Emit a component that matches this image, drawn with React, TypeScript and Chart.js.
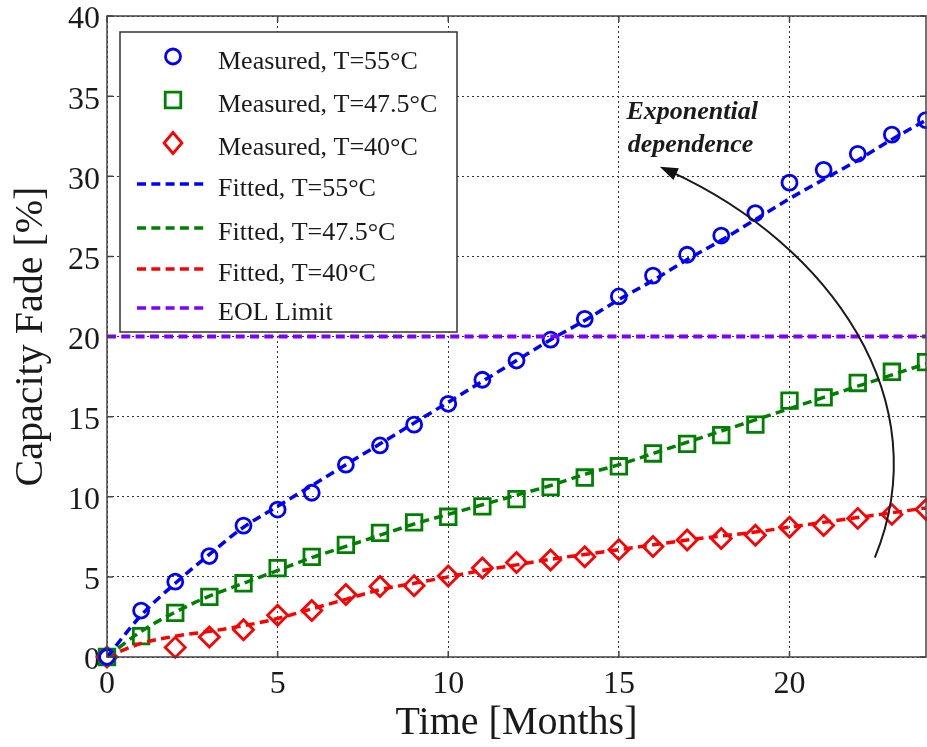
import React, { useEffect, useRef } from 'react';
import { Chart, registerables } from 'chart.js';

Chart.register(...registerables);

// ---------- data ----------
const months = [0, 1, 2, 3, 4, 5, 6, 7, 8, 9, 10, 11, 12, 13, 14, 15, 16, 17, 18, 19, 20, 21, 22, 23, 24];

const measured55 = [0, 2.9, 4.7, 6.3, 8.2, 9.2, 10.25, 12.0, 13.2, 14.5, 15.8, 17.3, 18.5, 19.8, 21.1, 22.5, 23.8, 25.1, 26.3, 27.7, 29.6, 30.4, 31.4, 32.6, 33.5];
const measured475 = [0, 1.3, 2.75, 3.75, 4.6, 5.55, 6.25, 7.0, 7.75, 8.4, 8.75, 9.4, 9.85, 10.6, 11.2, 11.9, 12.7, 13.3, 13.85, 14.5, 16.0, 16.2, 17.1, 17.8, 18.4];
const measured40 = [0, null, 0.6, 1.25, 1.7, 2.6, 2.9, 3.9, 4.4, 4.45, 5.05, 5.55, 5.9, 6.05, 6.25, 6.7, 6.9, 7.3, 7.4, 7.6, 8.1, 8.2, 8.65, 8.9, 9.2];

const fitted55 = [0, 2.6, 4.6, 6.4, 8.1, 9.4, 10.7, 12.0, 13.3, 14.6, 15.9, 17.2, 18.5, 19.8, 21.0, 22.3, 23.5, 24.8, 26.0, 27.3, 28.6, 29.8, 31.0, 32.3, 33.5];
const fitted475 = [0, 1.6, 2.8, 3.8, 4.6, 5.4, 6.2, 6.9, 7.6, 8.3, 8.9, 9.5, 10.1, 10.7, 11.4, 12.0, 12.7, 13.4, 14.1, 14.8, 15.5, 16.2, 16.9, 17.6, 18.3];
const fitted40 = [0, 0.85, 1.3, 1.6, 1.95, 2.4, 3.0, 3.6, 4.2, 4.6, 5.0, 5.4, 5.75, 6.1, 6.4, 6.7, 7.0, 7.3, 7.55, 7.8, 8.1, 8.4, 8.7, 9.0, 9.3];

const eolLimit = 20;

const seriesLabels = [
  'Measured, T=55°C',
  'Measured, T=47.5°C',
  'Measured, T=40°C',
  'Fitted, T=55°C',
  'Fitted, T=47.5°C',
  'Fitted, T=40°C',
  'EOL Limit',
];

const xTicks = [0, 5, 10, 15, 20];
const yTicks = [0, 5, 10, 15, 20, 25, 30, 35, 40];
const xTitle = 'Time [Months]';
const yTitle = 'Capacity Fade [%]';

const annotationLines = ['Exponential', 'dependence'];
const annotationTextAt = [[17.15, 34.0], [17.1, 31.95]];
const arrowCurve = [[22.5, 6.2], [24.4, 16.0], [21.2, 25.7], [16.2, 30.6]];

// ---------- styles ----------
const SERIF = "'Liberation Serif', 'Times New Roman', serif";
const BLUE = '#0000ff';
const GREEN = '#008000';
const RED = '#ff0000';
const PURPLE = '#7f00ff';
const TEXT = '#1a1a1a';

const pts = (ys: (number | null)[]) =>
  months.map((m, i) => ({ x: m, y: ys[i] })).filter((p) => p.y !== null);

function drawMarker(ctx: CanvasRenderingContext2D, kind: string, x: number, y: number, color: string) {
  ctx.save();
  ctx.strokeStyle = color;
  ctx.lineWidth = 2.8;
  ctx.beginPath();
  if (kind === 'circle') {
    ctx.arc(x, y, 7.5, 0, Math.PI * 2);
  } else if (kind === 'rect') {
    const s = 11 * Math.SQRT1_2;
    ctx.rect(x - s, y - s, 2 * s, 2 * s);
  } else {
    const r = 10.5;
    ctx.moveTo(x, y - r);
    ctx.lineTo(x + r * 0.85, y);
    ctx.lineTo(x, y + r);
    ctx.lineTo(x - r * 0.85, y);
    ctx.closePath();
  }
  ctx.stroke();
  ctx.restore();
}

const legendRows = [24.5, 68, 111, 152, 196, 237, 276];

const framePlugin = {
  id: 'framePlugin',
  afterDatasetsDraw(chart: any) {
    const ctx: CanvasRenderingContext2D = chart.ctx;
    const a = chart.chartArea;
    const xs = chart.scales.x;
    const ys = chart.scales.y;

    // axes box + inner ticks
    ctx.save();
    ctx.strokeStyle = '#444';
    ctx.lineWidth = 1.5;
    ctx.strokeRect(a.left, a.top, a.right - a.left, a.bottom - a.top);
    ctx.beginPath();
    xTicks.forEach((v) => {
      const px = xs.getPixelForValue(v);
      ctx.moveTo(px, a.bottom);
      ctx.lineTo(px, a.bottom - 6);
      ctx.moveTo(px, a.top);
      ctx.lineTo(px, a.top + 6);
    });
    yTicks.forEach((v) => {
      const py = ys.getPixelForValue(v);
      ctx.moveTo(a.left, py);
      ctx.lineTo(a.left + 6, py);
      ctx.moveTo(a.right, py);
      ctx.lineTo(a.right - 6, py);
    });
    ctx.stroke();
    ctx.restore();

    // annotation: curved arrow + text
    const P = arrowCurve.map(([x, y]) => [xs.getPixelForValue(x), ys.getPixelForValue(y)]);
    ctx.save();
    ctx.strokeStyle = '#1a1a1a';
    ctx.lineWidth = 2;
    const ang = Math.atan2(P[3][1] - P[2][1], P[3][0] - P[2][0]);
    const headLen = 18;
    const endX = P[3][0] - Math.cos(ang) * headLen * 0.7;
    const endY = P[3][1] - Math.sin(ang) * headLen * 0.7;
    ctx.beginPath();
    ctx.moveTo(P[0][0], P[0][1]);
    ctx.bezierCurveTo(P[1][0], P[1][1], P[2][0], P[2][1], endX, endY);
    ctx.stroke();
    ctx.fillStyle = '#111';
    ctx.beginPath();
    ctx.moveTo(P[3][0], P[3][1]);
    const bx = P[3][0] - Math.cos(ang) * headLen;
    const by = P[3][1] - Math.sin(ang) * headLen;
    ctx.lineTo(bx + Math.sin(ang) * 6.5, by - Math.cos(ang) * 6.5);
    ctx.lineTo(bx - Math.sin(ang) * 6.5, by + Math.cos(ang) * 6.5);
    ctx.closePath();
    ctx.fill();
    ctx.fillStyle = TEXT;
    ctx.font = `italic bold 26px ${SERIF}`;
    ctx.textAlign = 'center';
    ctx.textBaseline = 'middle';
    annotationLines.forEach((t, i) => {
      ctx.fillText(t, xs.getPixelForValue(annotationTextAt[i][0]), ys.getPixelForValue(annotationTextAt[i][1]));
    });
    ctx.restore();

    // legend
    const lx = a.left + 13;
    const ly = a.top + 16;
    const lw = 337;
    const lh = 300;
    ctx.save();
    ctx.fillStyle = '#ffffff';
    ctx.fillRect(lx, ly, lw, lh);
    ctx.strokeStyle = '#333';
    ctx.lineWidth = 1.5;
    ctx.strokeRect(lx, ly, lw, lh);
    chart.data.datasets.forEach((ds: any, i: number) => {
      const ry = ly + legendRows[i];
      if (ds.showLine) {
        ctx.save();
        ctx.strokeStyle = ds.borderColor;
        ctx.lineWidth = 3.5;
        ctx.setLineDash([9, 5.3]);
        ctx.beginPath();
        ctx.moveTo(lx + 17, ry);
        ctx.lineTo(lx + 88, ry);
        ctx.stroke();
        ctx.restore();
      } else {
        drawMarker(ctx, ds.pointStyle, lx + 53, ry, ds.borderColor);
      }
      ctx.fillStyle = TEXT;
      ctx.font = `26px ${SERIF}`;
      ctx.textAlign = 'left';
      ctx.textBaseline = 'alphabetic';
      ctx.fillText(ds.label, lx + 98, ry + 12);
    });
    ctx.restore();
  },
};

export default function App() {
  const ref = useRef<HTMLCanvasElement | null>(null);

  useEffect(() => {
    if (!ref.current) return;
    const measuredCommon = {
      showLine: false,
      borderWidth: 2.8,
      backgroundColor: 'rgba(0,0,0,0)',
      clip: false as any,
      order: 2,
    };
    const fittedCommon = {
      showLine: true,
      pointRadius: 0,
      borderWidth: 3.5,
      borderDash: [9, 5.3],
      cubicInterpolationMode: 'monotone' as const,
      fill: false,
      order: 1,
    };
    const chart = new Chart(ref.current, {
      type: 'scatter',
      data: {
        datasets: [
          { ...measuredCommon, label: seriesLabels[0], data: pts(measured55), borderColor: BLUE, pointStyle: 'circle', pointRadius: 7.5 },
          { ...measuredCommon, label: seriesLabels[1], data: pts(measured475), borderColor: GREEN, pointStyle: 'rect', pointRadius: 11 },
          { ...measuredCommon, label: seriesLabels[2], data: pts(measured40), borderColor: RED, pointStyle: 'rectRot', pointRadius: 10 },
          { ...fittedCommon, label: seriesLabels[3], data: pts(fitted55), borderColor: BLUE },
          { ...fittedCommon, label: seriesLabels[4], data: pts(fitted475), borderColor: GREEN },
          { ...fittedCommon, label: seriesLabels[5], data: pts(fitted40), borderColor: RED },
          {
            ...fittedCommon,
            label: seriesLabels[6],
            data: [{ x: months[0], y: eolLimit }, { x: months[months.length - 1], y: eolLimit }],
            borderColor: PURPLE,
            borderWidth: 4,
            order: 0,
          },
        ] as any,
      },
      options: {
        animation: false,
        responsive: false,
        devicePixelRatio: 1,
        events: [],
        layout: { autoPadding: false, padding: { left: 0, right: 1, top: 16, bottom: 0 } },
        plugins: { legend: { display: false }, tooltip: { enabled: false } },
        scales: {
          x: {
            type: 'linear',
            min: 0,
            max: 24,
            afterBuildTicks: (s: any) => {
              s.ticks = xTicks.map((v) => ({ value: v }));
            },
            afterFit: (s: any) => {
              s.height = 90;
              s.paddingLeft = 0;
              s.paddingRight = 0;
            },
            grid: { color: '#333', lineWidth: 1, drawTicks: false },
            border: { display: false, dash: [2, 3] },
            ticks: { font: { family: SERIF, size: 32 }, color: TEXT, padding: 8, maxRotation: 0 },
            title: {
              display: true,
              text: xTitle,
              font: { family: SERIF, size: 40 },
              color: TEXT,
              padding: { top: 0, bottom: 0 },
            },
          },
          y: {
            type: 'linear',
            min: 0,
            max: 40,
            afterBuildTicks: (s: any) => {
              s.ticks = yTicks.map((v) => ({ value: v }));
            },
            afterFit: (s: any) => {
              s.width = 107;
              s.paddingTop = 0;
              s.paddingBottom = 0;
            },
            grid: { color: '#333', lineWidth: 1, drawTicks: false },
            border: { display: false, dash: [2, 3] },
            ticks: { font: { family: SERIF, size: 32 }, color: TEXT, padding: 7, labelOffset: 4 },
            title: {
              display: true,
              text: yTitle,
              font: { family: SERIF, size: 40 },
              color: TEXT,
              padding: { top: 7, bottom: 0 },
            },
          },
        },
      },
      plugins: [framePlugin],
    });
    return () => chart.destroy();
  }, []);

  return (
    <div style={{ position: 'absolute', left: 0, top: 0, width: 927, height: 747, background: '#fff' }}>
      <canvas ref={ref} width={927} height={747} style={{ display: 'block' }} />
    </div>
  );
}
